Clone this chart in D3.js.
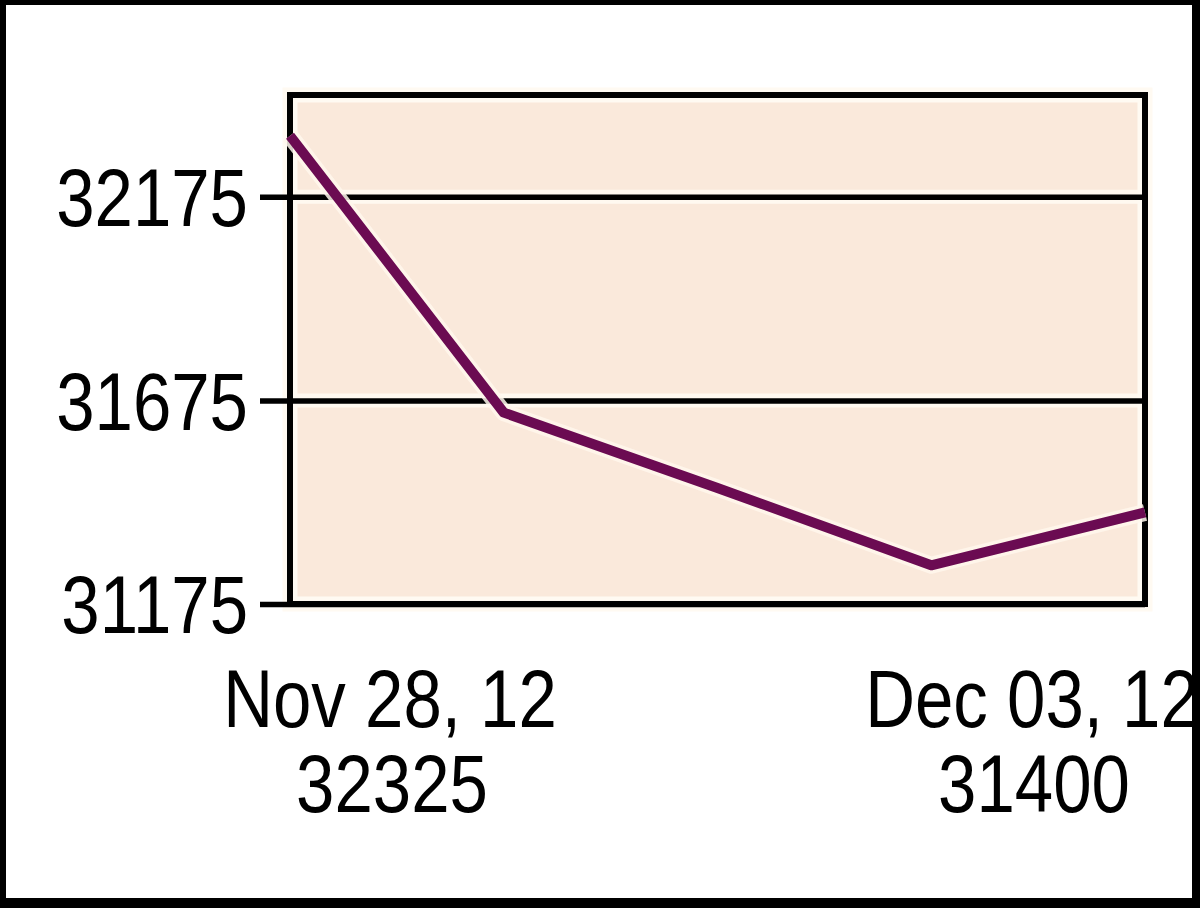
<!DOCTYPE html>
<html>
<head>
<meta charset="utf-8">
<script src="https://cdn.jsdelivr.net/npm/d3@7"></script>
<style>
  html, body { margin: 0; padding: 0; background: #ffffff; }
  svg { display: block; }
</style>
</head>
<body>
<svg id="chart" width="1200" height="908"></svg>
<script>
// ---- data ----
const dates = ["Nov 28, 12", "Nov 29, 12", "Nov 30, 12", "Dec 01, 12", "Dec 03, 12"];
const prices = [32325, 31645, 31460, 31270, 31400];
const yTickValues = [31175, 31675, 32175];
const yDomain = [31175, 32425];

// ---- layout ----
const W = 1200, H = 908;
const plot = { left: 290, right: 1145, top: 95, bottom: 604 };
const fontFamily = "'Liberation Sans', Arial, sans-serif";
const fontSize = 69;
const stretchY = 1.18;
const capH = fontSize * 0.716 * stretchY;

const svg = d3.select("#chart");

const x = d3.scalePoint().domain(dates).range([plot.left, plot.right]);
const y = d3.scaleLinear().domain(yDomain).range([plot.bottom, plot.top]);

// outer frame
svg.append("rect").attr("x", 0).attr("y", 0).attr("width", W).attr("height", H).attr("fill", "#000");
svg.append("rect").attr("x", 6).attr("y", 5).attr("width", 1192 - 6).attr("height", 898 - 5).attr("fill", "#fff");

// plot background
svg.append("rect")
  .attr("x", plot.left).attr("y", plot.top)
  .attr("width", plot.right - plot.left).attr("height", plot.bottom - plot.top)
  .attr("fill", "#FAE9DB");

// grid halos
const gridG = svg.append("g");
gridG.selectAll("line.halo").data(yTickValues.filter(v => y(v) > plot.top + 2 && y(v) < plot.bottom - 2))
  .join("line").attr("class", "halo")
  .attr("x1", plot.left).attr("x2", plot.right)
  .attr("y1", d => y(d)).attr("y2", d => y(d))
  .attr("stroke", "#FFF9F0").attr("stroke-width", 14);

// inner light strip along border
svg.append("rect")
  .attr("x", plot.left).attr("y", plot.top)
  .attr("width", plot.right - plot.left).attr("height", plot.bottom - plot.top)
  .attr("fill", "none").attr("stroke", "#FFFAF2").attr("stroke-width", 15);

// y axis: ticks + grid lines
const yAxis = d3.axisLeft(y).tickValues(yTickValues).tickSize(plot.right - plot.left + 30).tickFormat("");
const yAxisG = svg.append("g")
  .attr("transform", `translate(${plot.right},0)`)
  .call(yAxis);
yAxisG.select(".domain").remove();
yAxisG.selectAll(".tick line").attr("stroke", "#000").attr("stroke-width", 5.5);

// y labels
svg.append("g").selectAll("g.ylab").data(yTickValues).join("g")
  .attr("class", "ylab")
  .attr("transform", d => `translate(248, ${y(d) + capH / 2}) scale(1, ${stretchY})`)
  .append("text")
  .attr("text-anchor", "end")
  .attr("font-family", fontFamily).attr("font-size", fontSize).attr("fill", "#000")
  .text(d => d);

// plot border
svg.append("rect")
  .attr("x", plot.left).attr("y", plot.top)
  .attr("width", plot.right - plot.left).attr("height", plot.bottom - plot.top)
  .attr("fill", "none").attr("stroke", "#000").attr("stroke-width", 6);

// series line
const line = d3.line().x((d, i) => x(dates[i])).y(d => y(d));
svg.append("path").datum(prices)
  .attr("d", line).attr("fill", "none")
  .attr("stroke", "#FFF7EC").attr("stroke-width", 17)
  .attr("stroke-linejoin", "round").attr("stroke-opacity", 0.85);
svg.append("path").datum(prices)
  .attr("d", line).attr("fill", "none")
  .attr("stroke", "#6B0B52").attr("stroke-width", 10)
  .attr("stroke-linejoin", "round");

// x labels: first and last dates with their values
const last = dates.length - 1;
const xLabels = [
  { date: dates[0], value: prices[0], cx: x(dates[0]) + 100 },
  { date: dates[last], value: prices[last], cx: x(dates[last]) - 113 }
];
const xl = svg.append("g").selectAll("g.xlab").data(xLabels).join("g").attr("class", "xlab");
xl.append("g")
  .attr("transform", d => `translate(${d.cx}, 727) scale(1, ${stretchY})`)
  .append("text")
  .attr("text-anchor", "middle")
  .attr("font-family", fontFamily).attr("font-size", fontSize).attr("fill", "#000")
  .text(d => d.date);
xl.append("g")
  .attr("transform", d => `translate(${d.cx + 2}, 812) scale(1, ${stretchY})`)
  .append("text")
  .attr("text-anchor", "middle")
  .attr("font-family", fontFamily).attr("font-size", fontSize).attr("fill", "#000")
  .text(d => d.value);

// redraw right/bottom frame over clipped text
svg.append("rect").attr("x", 1192).attr("y", 0).attr("width", 8).attr("height", H).attr("fill", "#000");
svg.append("rect").attr("x", 0).attr("y", 898).attr("width", W).attr("height", 10).attr("fill", "#000");
</script>
</body>
</html>
